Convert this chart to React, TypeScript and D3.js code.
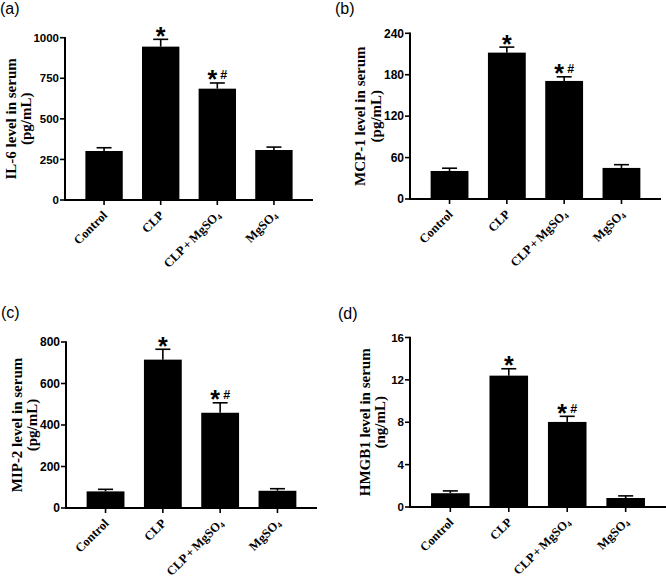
import React from "react";
import * as d3 from "d3";

const categories = ["Control", "CLP", "CLP + MgSO", "MgSO"];
const categorySubs = ["", "", "4", "4"];
const marks = ["", "*", "*#", ""];

const il6Values = [302, 945, 686, 308];
const il6Errors = [20, 45, 35, 18];
const il6Ticks = [0, 250, 500, 750, 1000];

const mcp1Values = [40.6, 212, 171, 45];
const mcp1Errors = [4, 8, 6, 4.7];
const mcp1Ticks = [0, 60, 120, 180, 240];

const mip2Values = [80, 715, 459, 83];
const mip2Errors = [10, 50, 48, 10];
const mip2Ticks = [0, 200, 400, 600, 800];

const hmgb1Values = [1.3, 12.4, 8.03, 0.85];
const hmgb1Errors = [0.22, 0.65, 0.53, 0.2];
const hmgb1Ticks = [0, 4, 8, 12, 16];

const panelLetters = ["(a)", "(b)", "(c)", "(d)"];
const yLabels = [
  ["IL-6 level in serum", "(pg/mL)"],
  ["MCP-1 level in serum", "(pg/mL)"],
  ["MIP-2 level in serum", "(pg/mL)"],
  ["HMGB1 level in serum", "(ng/mL)"],
];

const panelsData = [
  { values: il6Values, errors: il6Errors, ticks: il6Ticks },
  { values: mcp1Values, errors: mcp1Errors, ticks: mcp1Ticks },
  { values: mip2Values, errors: mip2Errors, ticks: mip2Ticks },
  { values: hmgb1Values, errors: hmgb1Errors, ticks: hmgb1Ticks },
];

// layout (pixels)
const layouts = [
  { lx: 0, ly: 14, x0: 65, x1: 313, yTop: 37.7, yBot: 200, lab1: 11, lab2: 26, tickFs: 11.5 },
  { lx: 335, ly: 14, x0: 410, x1: 661, yTop: 33.3, yBot: 199, lab1: 360, lab2: 376, tickFs: 12 },
  { lx: 1, ly: 318, x0: 66, x1: 317, yTop: 342, yBot: 508, lab1: 17, lab2: 32, tickFs: 12 },
  { lx: 338, ly: 319, x0: 410, x1: 666, yTop: 337.5, yBot: 507, lab1: 365, lab2: 380, tickFs: 11.5 },
];

const SANS = "'Liberation Sans', Arial, sans-serif";
const SERIF = "'Liberation Serif', 'Times New Roman', serif";

function Panel({ idx }: { idx: number }) {
  const d = panelsData[idx];
  const L = layouts[idx];
  const x = d3
    .scaleBand<string>()
    .domain(categories)
    .range([L.x0, L.x1])
    .paddingInner(0.34)
    .paddingOuter(0.36);
  const y = d3
    .scaleLinear()
    .domain([0, d.ticks[d.ticks.length - 1]])
    .range([L.yBot, L.yTop]);
  const bw = x.bandwidth();
  const yc = (L.yTop + L.yBot) / 2;
  return (
    <g>
      <text x={L.lx} y={L.ly} fontFamily={SANS} fontSize={16}>
        {panelLetters[idx]}
      </text>
      {/* y label */}
      <text
        transform={`translate(${L.lab1 + 4.5},${yc}) rotate(-90)`}
        textAnchor="middle"
        fontFamily={SERIF}
        fontWeight="bold"
        fontSize={15}
      >
        {yLabels[idx][0]}
      </text>
      <text
        transform={`translate(${L.lab2 + 4.5},${yc}) rotate(-90)`}
        textAnchor="middle"
        fontFamily={SERIF}
        fontWeight="bold"
        fontSize={15}
      >
        {yLabels[idx][1]}
      </text>
      {/* bars */}
      {categories.map((c, i) => {
        const bx = x(c)!;
        const cx = bx + bw / 2;
        const top = y(d.values[i]);
        const et = y(d.values[i] + d.errors[i]);
        return (
          <g key={c}>
            <rect x={bx} y={top} width={bw} height={L.yBot - top} fill="#000" />
            <line x1={cx} x2={cx} y1={top} y2={et} stroke="#000" strokeWidth={1.6} />
            <line x1={cx - 7.5} x2={cx + 7.5} y1={et} y2={et} stroke="#000" strokeWidth={1.6} />
            {marks[i] === "*" && (
              <text x={cx} y={et + 5.5} textAnchor="middle" fontFamily={SANS} fontWeight="bold" fontSize={25}>
                *
              </text>
            )}
            {marks[i] === "*#" && (
              <g>
                <text x={cx - 5} y={et + 5.5} textAnchor="middle" fontFamily={SANS} fontWeight="bold" fontSize={25}>
                  *
                </text>
                <text x={cx + 6.5} y={et - 3.5} textAnchor="middle" fontFamily={SANS} fontWeight="bold" fontSize={12.5}>
                  #
                </text>
              </g>
            )}
          </g>
        );
      })}
      {/* y axis */}
      <line x1={L.x0} x2={L.x0} y1={L.yTop - 0.8} y2={L.yBot + 1} stroke="#000" strokeWidth={2} />
      {d.ticks.map((t) => (
        <g key={t}>
          <line x1={L.x0 - 5} x2={L.x0} y1={y(t)} y2={y(t)} stroke="#000" strokeWidth={1.6} />
          <text
            x={L.x0 - 6}
            y={y(t)}
            dy="0.36em"
            textAnchor="end"
            fontFamily={SANS}
            fontWeight="bold"
            fontSize={L.tickFs}
          >
            {t}
          </text>
        </g>
      ))}
      {/* x axis */}
      <line x1={L.x0 - 1} x2={L.x1} y1={L.yBot} y2={L.yBot} stroke="#000" strokeWidth={2} />
      {categories.map((c, i) => {
        const cx = x(c)! + bw / 2;
        return (
          <g key={c}>
            <line x1={cx} x2={cx} y1={L.yBot} y2={L.yBot + 5} stroke="#000" strokeWidth={1.6} />
            <text
              transform={`translate(${cx + 4},${L.yBot + 16}) rotate(-45)`}
              textAnchor="end"
              fontFamily={SERIF}
              fontWeight="bold"
              fontSize={12.5}
              wordSpacing={-1}
            >
              {c}
              {categorySubs[i] && (
                <tspan fontSize={8} dy={2}>
                  {categorySubs[i]}
                </tspan>
              )}
            </text>
          </g>
        );
      })}
    </g>
  );
}

export default function App() {
  return (
    <svg
      width={666}
      height={578}
      style={{ position: "absolute", left: 0, top: 0, background: "#fff" }}
    >
      <rect width={666} height={578} fill="#fff" />
      {[0, 1, 2, 3].map((i) => (
        <Panel key={i} idx={i} />
      ))}
    </svg>
  );
}
